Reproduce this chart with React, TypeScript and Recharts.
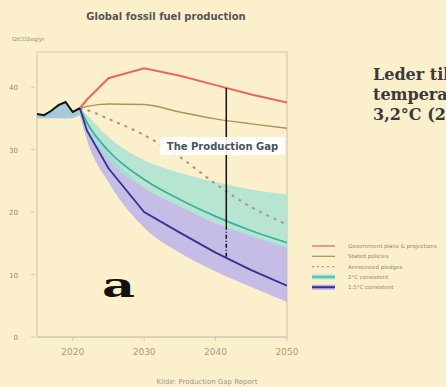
import React from "react";
import {
  ComposedChart,
  Line,
  Area,
  XAxis,
  YAxis,
  ReferenceArea,
  ReferenceLine,
} from "recharts";

// years on the x axis
const years = [2015, 2016, 2017, 2018, 2019, 2020, 2021, 2022, 2025, 2030, 2035, 2040, 2045, 2050];

// GtCO2eq/yr
const history = [35.7, 35.5, 36.2, 37.1, 37.6, 36.0, 36.6, null, null, null, null, null, null, null];
const historyLow = [35.0, 35.0, 35.0, 35.0, 35.0, 35.0, 35.5, null, null, null, null, null, null, null];
const historyHigh = [35.7, 35.5, 36.2, 37.0, 37.5, 36.0, 36.6, null, null, null, null, null, null, null];

const governmentPlans = [null, null, null, null, null, null, 36.6, 38.0, 41.4, 43.0, 41.8, 40.3, 38.8, 37.5];
const statedPolicies = [null, null, null, null, null, null, 36.6, 36.9, 37.3, 37.2, 36.0, 34.9, 34.1, 33.4];
const announcedPledges = [null, null, null, null, null, null, 36.6, 36.3, 34.9, 32.3, 28.8, 24.5, 20.8, 18.0];
const twoDegree = [null, null, null, null, null, null, 36.6, 34.3, 29.8, 25.2, 22.0, 19.3, 17.0, 15.1];
const twoDegreeLow = [null, null, null, null, null, null, 36.0, 33.5, 28.3, 23.8, 20.8, 18.2, 16.0, 14.2];
const twoDegreeHigh = [null, null, null, null, null, null, 36.6, 35.5, 32.0, 28.3, 26.3, 24.8, 23.6, 22.8];
const onePointFive = [null, null, null, null, null, null, 36.6, 33.0, 27.0, 20.0, 16.7, 13.5, 10.7, 8.2];
const onePointFiveLow = [null, null, null, null, null, null, 35.5, 31.5, 24.8, 17.5, 13.5, 10.5, 8.0, 5.6];
const onePointFiveHigh = [null, null, null, null, null, null, 36.6, 34.5, 29.5, 24.0, 21.0, 18.2, 16.3, 14.5];

const xTicks = [2020, 2030, 2040, 2050];
const yTicks = [0, 10, 20, 30, 40];
const GAP_YEAR = 2041.5;

const legendItems = [
  "Government plans & projections",
  "Stated policies",
  "Announced pledges",
  "2°C consistent",
  "1.5°C consistent",
];
const sideText = ["Leder til en", "temperaturstigning på", "3,2°C (2100)"];

const BG = "#fcefcb";
const RED = "#e8675e";
const TAN = "#ad9458";
const DASH = "#a89a80";
const TEAL = "#3fae9e";
const TEAL_FILL = "#9fe3d4";
const NAVY = "#34348a";
const LAVENDER = "#b7b0ec";
const HIST_FILL = "#9cc4de";

const data = years.map((year, i) => ({
  year,
  history: history[i],
  historyBand: historyLow[i] == null ? null : [historyLow[i], historyHigh[i]],
  governmentPlans: governmentPlans[i],
  statedPolicies: statedPolicies[i],
  announcedPledges: announcedPledges[i],
  twoDegree: twoDegree[i],
  twoDegreeBand: twoDegreeLow[i] == null ? null : [twoDegreeLow[i], twoDegreeHigh[i]],
  onePointFive: onePointFive[i],
  onePointFiveBand: onePointFiveLow[i] == null ? null : [onePointFiveLow[i], onePointFiveHigh[i]],
}));

// linear interpolation along a series, used for the ends of the gap marker
function valueAt(series: (number | null)[], year: number) {
  for (let i = 0; i < years.length - 1; i++) {
    const a = series[i];
    const b = series[i + 1];
    if (a == null || b == null) continue;
    if (year >= years[i] && year <= years[i + 1]) {
      const t = (year - years[i]) / (years[i + 1] - years[i]);
      return a + (b - a) * t;
    }
  }
  return 0;
}

const gapTop = valueAt(governmentPlans, GAP_YEAR);
const gapMid = valueAt(twoDegree, GAP_YEAR) - 0.8;
const gapBottom = valueAt(onePointFive, GAP_YEAR);

const YTick = (props: any) => {
  const { x, y, payload } = props;
  return (
    <g>
      <line x1={x - 6} x2={x - 2} y1={y} y2={y} stroke="#cfc6b4" />
      <text x={x - 19} y={y} dy={3} textAnchor="end" fontSize={7} fill="#8f887a" fontFamily="DejaVu Sans">
        {payload.value}
      </text>
    </g>
  );
};

export default function App() {
  return (
    <div
      style={{
        position: "fixed",
        left: 0,
        top: 0,
        width: 446,
        height: 387,
        background: BG,
        overflow: "hidden",
      }}
    >
      <ComposedChart
        width={446}
        height={387}
        data={data}
        margin={{ top: 52, right: 159, bottom: 30, left: 0 }}
      >
        <XAxis
          dataKey="year"
          type="number"
          domain={[2015, 2050]}
          ticks={xTicks}
          allowDataOverflow
          height={20}
          tickSize={4}
          tickMargin={8}
          axisLine={{ stroke: "#cfc8b8" }}
          tickLine={{ stroke: "#cfc8b8" }}
          tick={{ fontSize: 9, fill: "#a89d88", fontFamily: "DejaVu Sans" }}
        />
        <YAxis
          type="number"
          domain={[0, 45.6]}
          ticks={yTicks}
          width={37}
          axisLine={false}
          tickLine={false}
          tickSize={0}
          tickMargin={0}
          tick={<YTick />}
        />
        <ReferenceArea x1={2015} x2={2050} y1={0} y2={45.6} fill="none" stroke="#d2cbbc" strokeWidth={1.2} />

        <Area
          type="monotone"
          dataKey="onePointFiveBand"
          stroke="none"
          fill={LAVENDER}
          fillOpacity={0.8}
          isAnimationActive={false}
        />
        <Area
          type="monotone"
          dataKey="twoDegreeBand"
          stroke="none"
          fill={TEAL_FILL}
          fillOpacity={0.75}
          isAnimationActive={false}
        />
        <Area
          dataKey="historyBand"
          stroke="none"
          fill={HIST_FILL}
          fillOpacity={0.9}
          isAnimationActive={false}
        />

        <Line dataKey="governmentPlans" stroke={RED} strokeWidth={2} dot={false} isAnimationActive={false} />
        <Line type="monotone" dataKey="statedPolicies" stroke={TAN} strokeWidth={1.5} dot={false} isAnimationActive={false} />
        <Line
          type="monotone"
          dataKey="announcedPledges"
          stroke={DASH}
          strokeWidth={2}
          strokeDasharray="3 5"
          dot={false}
          isAnimationActive={false}
        />
        <Line type="monotone" dataKey="twoDegree" stroke={TEAL} strokeWidth={1.8} dot={false} isAnimationActive={false} />
        <Line dataKey="onePointFive" stroke={NAVY} strokeWidth={1.8} dot={false} isAnimationActive={false} />
        <Line dataKey="history" stroke="#111" strokeWidth={2} dot={false} isAnimationActive={false} />

        <ReferenceLine
          segment={[
            { x: GAP_YEAR, y: gapTop },
            { x: GAP_YEAR, y: gapMid },
          ]}
          stroke="#111"
          strokeWidth={1.5}
        />
        <ReferenceLine
          segment={[
            { x: GAP_YEAR, y: gapMid },
            { x: GAP_YEAR, y: gapBottom },
          ]}
          stroke="#111"
          strokeWidth={1.5}
          strokeDasharray="4 2 1 2"
        />
      </ComposedChart>

      <svg
        width={446}
        height={387}
        style={{ position: "absolute", left: 0, top: 0, pointerEvents: "none" }}
      >
        <text x={166} y={20} textAnchor="middle" fontSize={10} fontWeight="bold" fill="#555" fontFamily="DejaVu Sans">
          Global fossil fuel production
        </text>
        <text x={12} y={41} fontSize={5.5} fill="#8f887a" fontFamily="DejaVu Sans">
          GtCO2eq/yr
        </text>

        <rect x={160} y={137} width={125} height={18} fill="#fff" fillOpacity={0.9} />
        <text x={222.5} y={149.5} textAnchor="middle" fontSize={10} fontWeight="bold" fill="#475366" fontFamily="DejaVu Sans">
          The Production Gap
        </text>

        <text
          x={102}
          y={297}
          fontSize={33}
          fontWeight="bold"
          fill="#111"
          fontFamily="DejaVu Serif"
          textLength={33}
          lengthAdjust="spacingAndGlyphs"
        >
          a
        </text>

        {sideText.map((line, i) => (
          <text
            key={line}
            x={373}
            y={80 + i * 20}
            fontSize={16}
            fontWeight="bold"
            fill="#3a3a3a"
            fontFamily="DejaVu Serif"
          >
            {line}
          </text>
        ))}

        {legendItems.map((label, i) => {
          const y = 246 + i * 10.3;
          return (
            <g key={label}>
              {i === 3 && <rect x={312} y={y - 2.5} width={23} height={5} fill={TEAL_FILL} />}
              {i === 4 && <rect x={312} y={y - 2.5} width={23} height={5} fill={LAVENDER} />}
              <line
                x1={312}
                x2={335}
                y1={y}
                y2={y}
                stroke={[RED, TAN, DASH, TEAL, NAVY][i]}
                strokeWidth={i === 4 ? 2 : 1.3}
                strokeDasharray={i === 2 ? "2 3" : undefined}
              />
              <text x={348} y={y + 2} fontSize={5.5} fill="#8f887a" fontFamily="DejaVu Sans">
                {label}
              </text>
            </g>
          );
        })}

        <text x={207} y={384} textAnchor="middle" fontSize={7} fill="#a0998a" fontFamily="DejaVu Sans">
          Kilde: Production Gap Report
        </text>
      </svg>
    </div>
  );
}
